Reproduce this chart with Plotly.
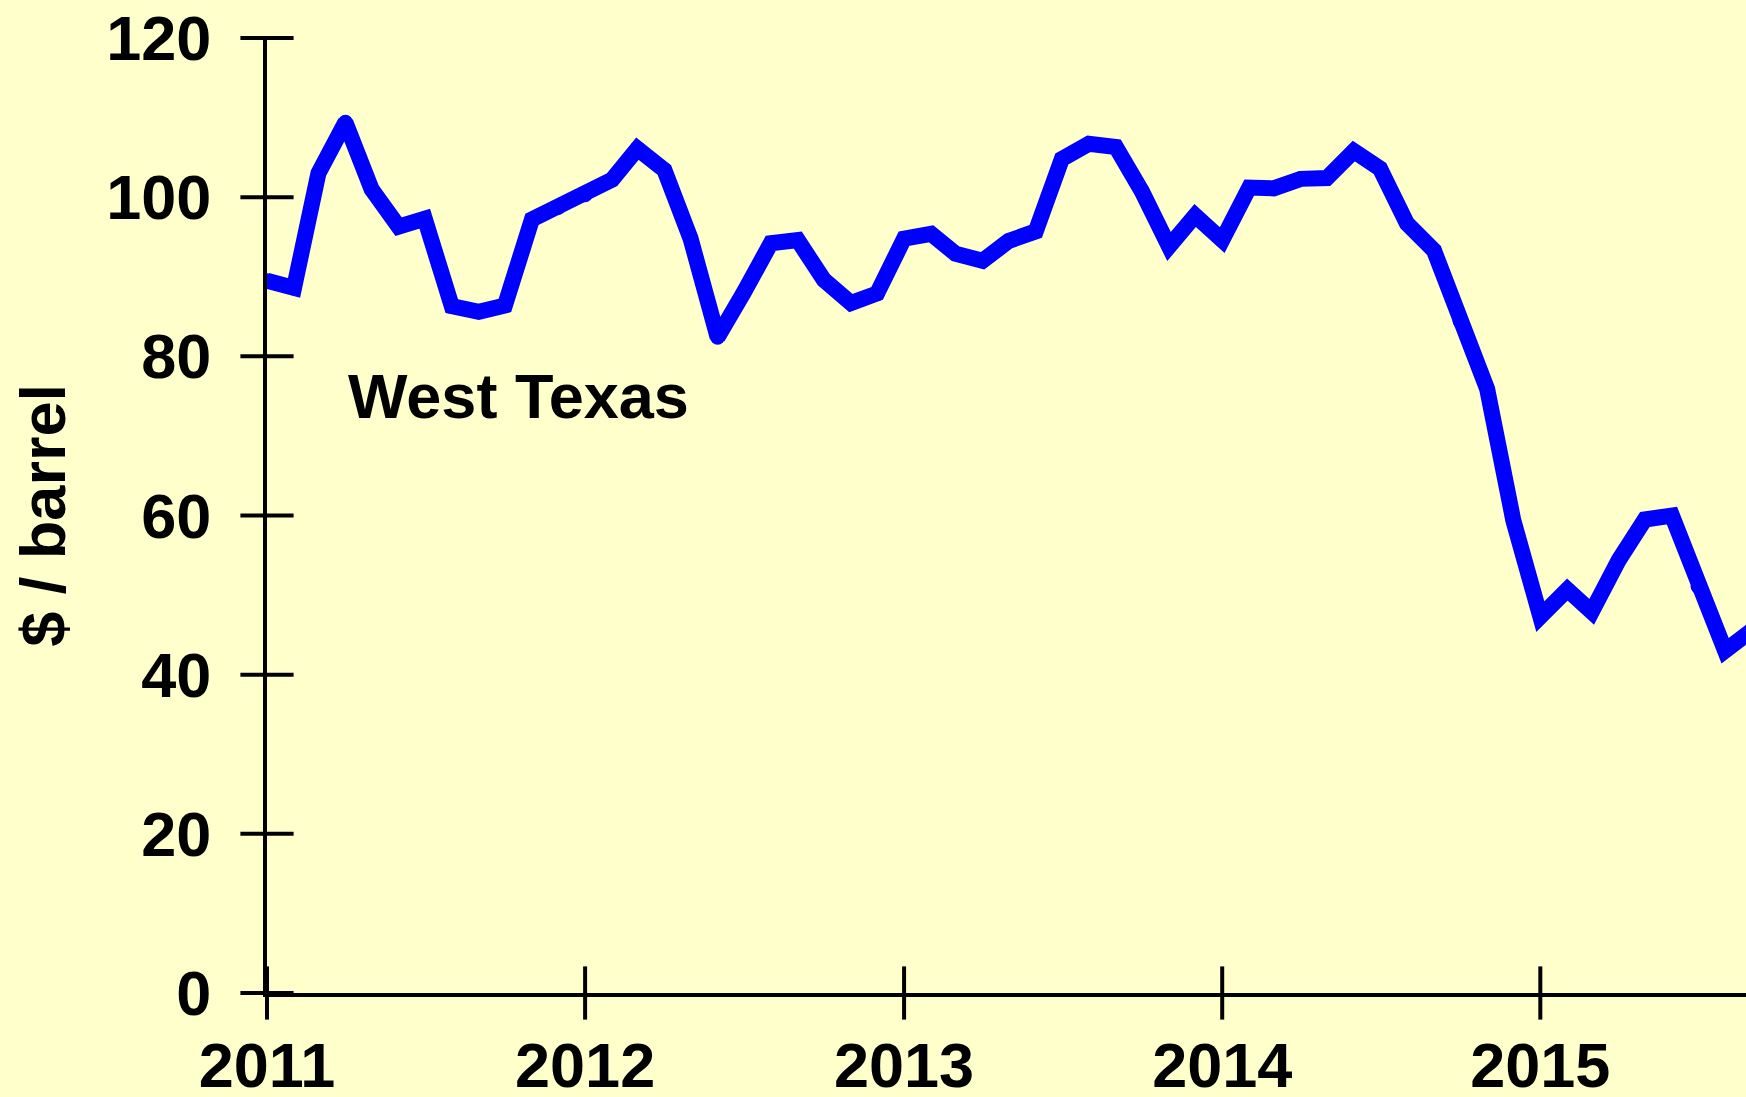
import plotly.graph_objects as go

# ---- data (WTI monthly, $/barrel) ----
months = [f"{y}-{m:02d}-01" for y in range(2011, 2016) for m in range(1, 13)][:57]
prices = [
    89.5, 88.6, 103.0, 109.4, 101.0, 96.3, 97.3, 86.3, 85.6, 86.4, 97.2, 98.7,   # 2011
    100.3, 102.2, 106.1, 103.4, 94.8, 82.4, 88.0, 94.2, 94.6, 89.6, 86.7, 87.9,  # 2012
    94.8, 95.4, 92.9, 92.0, 94.5, 95.7, 104.8, 106.7, 106.3, 100.7, 93.8, 97.7,  # 2013
    94.6, 101.2, 101.1, 102.3, 102.4, 105.8, 103.6, 96.7, 93.3, 84.4, 75.9, 59.4, # 2014
    47.3, 50.7, 47.9, 54.4, 59.5, 60.0, 51.1, 43.0, 45.6,                         # 2015
]
year_ticks = ["2011-01-01", "2012-01-01", "2013-01-01", "2014-01-01", "2015-01-01"]
year_labels = ["2011", "2012", "2013", "2014", "2015"]
y_ticks = [0, 20, 40, 60, 80, 100, 120]
series_label = "West Texas"
y_title = "$ / barrel"

BG = "#FFFFCC"
FONT = dict(family="Liberation Sans, Arial, sans-serif", size=63, color="black", weight="bold")
LINE_W = 16

fig = go.Figure()

# cross-style tick marks
fig.add_trace(go.Scatter(
    x=[year_ticks[0]] * len(y_ticks), y=y_ticks, mode="markers",
    marker=dict(symbol="line-ew", size=38, line=dict(width=4, color="black")),
    cliponaxis=False, hoverinfo="skip", showlegend=False))
fig.add_trace(go.Scatter(
    x=year_ticks, y=[0] * len(year_ticks), mode="markers",
    marker=dict(symbol="line-ns", size=38, line=dict(width=4, color="black")),
    cliponaxis=False, hoverinfo="skip", showlegend=False))

# price line (round markers at vertices give rounded joins)
fig.add_trace(go.Scatter(
    x=months, y=prices, mode="lines+markers",
    line=dict(color="#0000FF", width=LINE_W),
    marker=dict(color="#0000FF", size=LINE_W - 1, line=dict(width=0)),
    cliponaxis=True, hoverinfo="x+y", showlegend=False))

fig.add_annotation(
    x="2011-04-02", y=75, xref="x", yref="y", text=series_label,
    showarrow=False, xanchor="left", yanchor="middle", font=FONT)

fig.add_annotation(
    x=-0.152, y=0.5, xref="paper", yref="paper", text=y_title,
    textangle=-90, showarrow=False, xanchor="center", yanchor="middle", font=FONT)

fig.update_layout(
    width=1746, height=1097,
    margin=dict(l=267, r=0, t=38, b=104, autoexpand=False),
    paper_bgcolor=BG, plot_bgcolor=BG,
    font=FONT,
    xaxis=dict(
        type="date", range=["2011-01-01", "2015-08-25"],
        tickvals=year_ticks, ticktext=year_labels,
        ticks="", showgrid=False, zeroline=False, automargin=False,
        showline=True, linewidth=4, linecolor="black",
        ticklabelstandoff=14, tickfont=FONT),
    yaxis=dict(
        range=[0, 120], tickvals=y_ticks,
        ticks="", showgrid=False, zeroline=False, automargin=False,
        showline=True, linewidth=4, linecolor="black",
        ticklabelstandoff=39, tickfont=FONT),
)

fig.write_html(
    "out.html",
    config={"displayModeBar": False},
    post_script="document.body.style.margin='0px';document.body.style.background='#FFFFCC';document.body.style.overflow='hidden';",
)
